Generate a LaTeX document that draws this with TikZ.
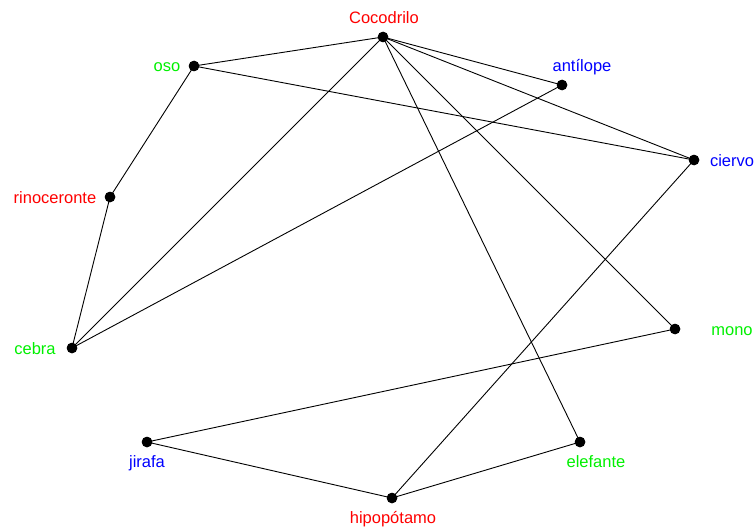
\documentclass[tikz,border=0pt]{standalone}
\usepackage{fontspec}
\setmainfont{Liberation Sans}
\definecolor{lred}{RGB}{255,0,0}
\definecolor{lgreen}{RGB}{0,240,0}
\definecolor{lblue}{RGB}{0,0,255}
\begin{document}
\begin{tikzpicture}[x=1pt,y=-1pt,
  vtx/.style={circle,fill=black,inner sep=0pt,minimum size=10.5pt},
  lbl/.style={anchor=base,inner sep=0pt,font=\fontsize{16.5}{18}\selectfont},
  edge/.style={line width=0.9pt}]
\useasboundingbox (0,0) rectangle (755,527);
% vertices
\node[vtx] (coc) at (383,37) {};
\node[vtx] (oso) at (194,66) {};
\node[vtx] (ant) at (562,85) {};
\node[vtx] (cie) at (694,160) {};
\node[vtx] (rin) at (110,197) {};
\node[vtx] (ceb) at (72,348) {};
\node[vtx] (mon) at (675,329) {};
\node[vtx] (jir) at (147,442) {};
\node[vtx] (ele) at (580,442) {};
\node[vtx] (hip) at (392,498) {};
% labels
\node[lbl,text=lred] (lcoc) at (384,24) {Cocodrilo};
\node[lbl,text=lgreen] (loso) at (167,72) {oso};
\node[lbl,text=lblue] (lant) at (582,72) {antílope};
\node[lbl,text=lblue] (lcie) at (732,166) {ciervo};
\node[lbl,text=lred] (lrin) at (55,203) {rinoceronte};
\node[lbl,text=lgreen] (lceb) at (35,354) {cebra};
\node[lbl,text=lgreen] (lmon) at (732,335) {mono};
\node[lbl,text=lblue] (ljir) at (147,467) {jirafa};
\node[lbl,text=lgreen] (lele) at (596,467) {elefante};
\node[lbl,text=lred] (lhip) at (393,523) {hipopótamo};
% edges
\draw[edge] (coc.center) -- (oso.center);
\draw[edge] (coc.center) -- (ant.center);
\draw[edge] (coc.center) -- (cie.center);
\draw[edge] (coc.center) -- (ceb.center);
\draw[edge] (coc.center) -- (mon.center);
\draw[edge] (coc.center) -- (ele.center);
\draw[edge] (oso.center) -- (cie.center);
\draw[edge] (oso.center) -- (rin.center);
\draw[edge] (rin.center) -- (ceb.center);
\draw[edge] (ceb.center) -- (ant.center);
\draw[edge] (cie.center) -- (hip.center);
\draw[edge] (mon.center) -- (jir.center);
\draw[edge] (jir.center) -- (hip.center);
\draw[edge] (hip.center) -- (ele.center);
% redraw vertices on top
\foreach \n in {coc,oso,ant,cie,rin,ceb,mon,jir,ele,hip}
  \fill (\n.center) circle (5.25pt);
\end{tikzpicture}
\end{document}
